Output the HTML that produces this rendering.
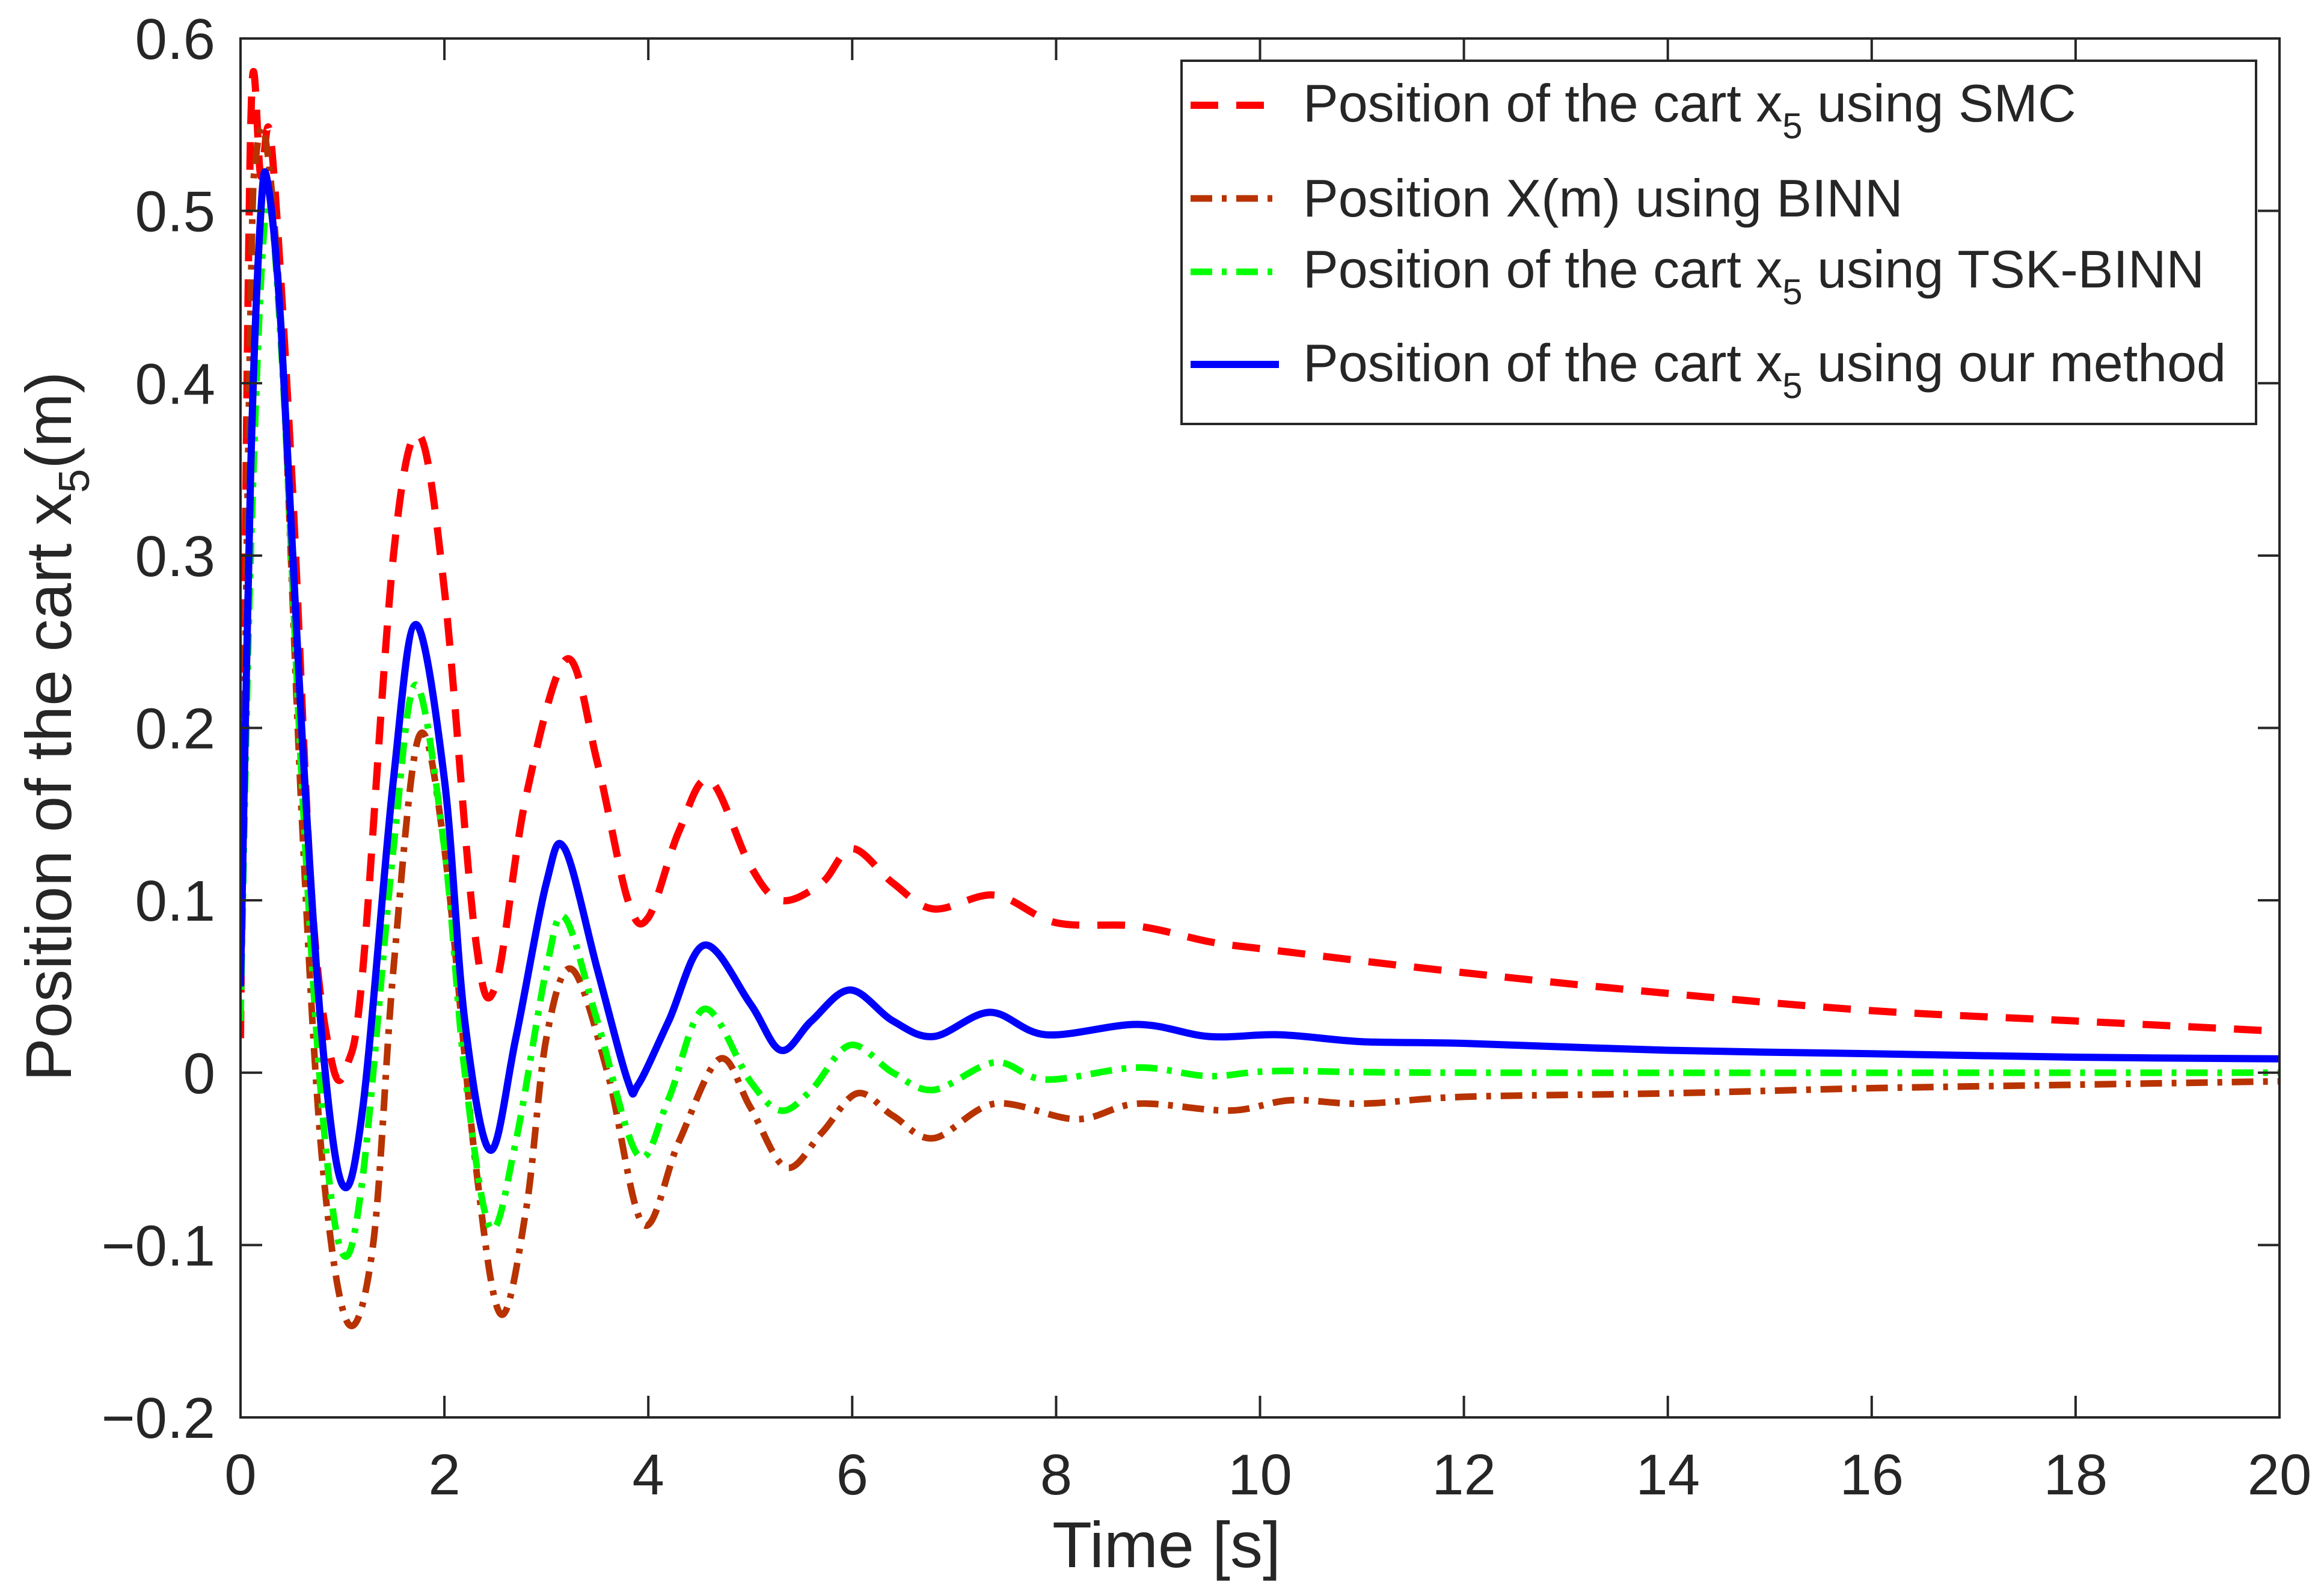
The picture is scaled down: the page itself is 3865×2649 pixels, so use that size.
<!DOCTYPE html>
<html><head><meta charset="utf-8"><style>
html,body{margin:0;padding:0;background:#fff}
svg{display:block;font-family:"Liberation Sans",Arial,sans-serif}
</style></head><body>
<svg id="chart" width="3865" height="2649" viewBox="0 0 3865 2649">
<rect x="0" y="0" width="3865" height="2649" fill="#fff"/>
<g id="plot"></g>
<g id="axes"></g>
</svg>
<script>
const smcT=[0,0.1,0.2,0.3,0.5,0.7,0.9,1.05,1.2,1.5,1.75,2.0,2.3,2.5,2.8,3.2,3.5,3.8,4.0,4.3,4.6,5.0,5.3,5.7,6.0,6.4,6.8,7.4,8,8.8,9.5,10,12,14,16,18,20];
const smcY=[0.02,0.55,0.52,0.54,0.35,0.1,0.005,0.005,0.06,0.3,0.37,0.28,0.08,0.05,0.16,0.24,0.18,0.1,0.09,0.14,0.17,0.12,0.1,0.11,0.13,0.11,0.095,0.103,0.087,0.085,0.076,0.072,0.058,0.046,0.036,0.03,0.024];
const binnT=[0,0.1,0.15,0.25,0.4,0.6,0.8,1.05,1.3,1.5,1.75,2.0,2.3,2.55,2.8,3.0,3.25,3.6,3.95,4.3,4.7,5.0,5.35,5.7,6.05,6.4,6.8,7.4,8.2,8.8,9.7,10.3,11,12,14,16,18,20];
const binnY=[0.05,0.45,0.53,0.54,0.43,0.15,-0.05,-0.145,-0.1,0.06,0.195,0.13,-0.05,-0.14,-0.08,0.02,0.06,0.0,-0.088,-0.04,0.008,-0.02,-0.055,-0.035,-0.012,-0.025,-0.038,-0.018,-0.027,-0.018,-0.022,-0.016,-0.018,-0.014,-0.012,-0.009,-0.007,-0.005];
const tskT=[0,0.1,0.25,0.4,0.6,0.8,1.0,1.2,1.5,1.72,2.0,2.2,2.45,2.7,3.0,3.18,3.5,3.9,4.2,4.55,5.0,5.3,5.6,5.98,6.4,6.8,7.4,7.9,8.8,9.5,10.2,12,20];
const tskY=[0.03,0.3,0.5,0.42,0.17,-0.02,-0.105,-0.06,0.13,0.225,0.13,0.0,-0.09,-0.04,0.06,0.09,0.03,-0.048,-0.015,0.037,-0.005,-0.022,-0.01,0.016,0.0,-0.01,0.006,-0.004,0.003,-0.002,0.001,0.0,0.0];
const oursT=[0,0.1,0.2,0.27,0.4,0.6,0.8,1.0,1.2,1.5,1.72,2.0,2.2,2.45,2.7,3.0,3.18,3.5,3.8,3.9,4.2,4.55,5.0,5.3,5.6,5.98,6.4,6.8,7.35,7.9,8.8,9.5,10.2,11,12,14,16,18,20];
const oursY=[0.05,0.35,0.5,0.515,0.43,0.2,0.02,-0.065,-0.02,0.17,0.26,0.17,0.03,-0.045,0.02,0.11,0.13,0.06,-0.005,-0.007,0.03,0.074,0.04,0.013,0.03,0.048,0.03,0.021,0.035,0.022,0.028,0.021,0.022,0.018,0.017,0.013,0.011,0.009,0.008];
const xTicks=[0,2,4,6,8,10,12,14,16,18,20];
const yTicks=[-0.2,-0.1,0,0.1,0.2,0.3,0.4,0.5,0.6];
const yTickLabels=["\u22120.2","\u22120.1","0","0.1","0.2","0.3","0.4","0.5","0.6"];

const L=400,R=3791,T=64,B=2357;
const X=v=>L+(v-0)/(20-0)*(R-L);
const Y=v=>B-(v+0.2)/(0.8)*(B-T);
const NS="http://www.w3.org/2000/svg";
const plot=document.getElementById('plot'),axes=document.getElementById('axes');
function mk(tag,attrs,parent){const e=document.createElementNS(NS,tag);for(const k in attrs)e.setAttribute(k,attrs[k]);parent.appendChild(e);return e;}
function pathD(ts,ys){
  const p=ts.map((t,i)=>[X(t),Y(ys[i])]);
  let d="M"+p[0][0].toFixed(1)+","+p[0][1].toFixed(1);
  for(let i=0;i<p.length-1;i++){
    const p0=p[i-1]||p[i],p1=p[i],p2=p[i+1],p3=p[i+2]||p2;
    const c1=[p1[0]+(p2[0]-p0[0])/6,p1[1]+(p2[1]-p0[1])/6];
    const c2=[p2[0]-(p3[0]-p1[0])/6,p2[1]-(p3[1]-p1[1])/6];
    d+=" C"+c1[0].toFixed(1)+","+c1[1].toFixed(1)+" "+c2[0].toFixed(1)+","+c2[1].toFixed(1)+" "+p2[0].toFixed(1)+","+p2[1].toFixed(1);
  }
  return d;
}
const cp=mk('clipPath',{id:'clip'},plot);
mk('rect',{x:L,y:T,width:R-L,height:B-T},cp);
const series=[
 {t:smcT,y:smcY,c:"#ff0000",w:12,dash:"46 30",name:"smc-line"},
 {t:binnT,y:binnY,c:"#b83300",w:11,dash:"36 16 8 16",name:"binn-line"},
 {t:tskT,y:tskY,c:"#00ff00",w:11,dash:"36 16 8 16",name:"tsk-binn-line"},
 {t:oursT,y:oursY,c:"#0000ff",w:12,dash:"none",name:"our-method-line"}
];
series.forEach(s=>{
  const e=mk('path',{d:pathD(s.t,s.y),fill:"none",stroke:s.c,"stroke-width":s.w,"stroke-dasharray":s.dash,"clip-path":"url(#clip)"},plot);
  
  
});
const fr=mk('rect',{x:L,y:T,width:R-L,height:B-T,fill:"none",stroke:"#262626","stroke-width":4},axes);


xTicks.forEach(v=>{
  const x=X(v);
  mk('line',{x1:x,y1:B,x2:x,y2:B-36,stroke:"#262626","stroke-width":4},axes);
  mk('line',{x1:x,y1:T,x2:x,y2:T+36,stroke:"#262626","stroke-width":4},axes);
  const t=mk('text',{x:x,y:B+128,"text-anchor":"middle","font-size":96,fill:"#262626"},axes);
  t.textContent=v;
  
  
});
yTicks.forEach((v,i)=>{
  const y=Y(v);
  mk('line',{x1:L,y1:y,x2:L+36,y2:y,stroke:"#262626","stroke-width":4},axes);
  mk('line',{x1:R,y1:y,x2:R-36,y2:y,stroke:"#262626","stroke-width":4},axes);
  const t=mk('text',{x:L-42,y:y+34,"text-anchor":"end","font-size":96,fill:"#262626"},axes);
  t.textContent=yTickLabels[i];
  
  
});
</script>
<div style="position:absolute;left:0;top:0;width:3865px;height:2649px;pointer-events:none">
<svg width="3865" height="2649" style="position:absolute;left:0;top:0" font-family="Liberation Sans, Arial, sans-serif">
<text x="1940" y="2606" text-anchor="middle" font-size="108" fill="#262626">Time [s]</text>
<text transform="translate(118,1208) rotate(-90)" text-anchor="middle" font-size="108" fill="#262626">Position of the cart x<tspan font-size="72" dy="30">5</tspan><tspan dy="-30">(m)</tspan></text>
<g>
<rect x="1965" y="101" width="1787" height="604" fill="#fff" stroke="#262626" stroke-width="4"/>
<line x1="1980" y1="175" x2="2127" y2="175" stroke="#ff0000" stroke-width="12" stroke-dasharray="46 30"/>
<text x="2167" y="202" font-size="88" fill="#262626">Position of the cart x<tspan font-size="60" dy="28">5</tspan><tspan dy="-28"> using SMC</tspan></text>
<line x1="1980" y1="330" x2="2127" y2="330" stroke="#b83300" stroke-width="11" stroke-dasharray="36 16 8 16"/>
<text x="2167" y="360" font-size="88" fill="#262626">Position X(m) using BINN</text>
<line x1="1980" y1="452" x2="2127" y2="452" stroke="#00ff00" stroke-width="11" stroke-dasharray="36 16 8 16"/>
<text x="2167" y="478" font-size="88" fill="#262626">Position of the cart x<tspan font-size="60" dy="28">5</tspan><tspan dy="-28"> using TSK-BINN</tspan></text>
<line x1="1980" y1="606" x2="2127" y2="606" stroke="#0000ff" stroke-width="12"/>
<text x="2167" y="634" font-size="88" fill="#262626">Position of the cart x<tspan font-size="60" dy="28">5</tspan><tspan dy="-28"> using our method</tspan></text>
</g>
</svg>
</div>
</body></html>
